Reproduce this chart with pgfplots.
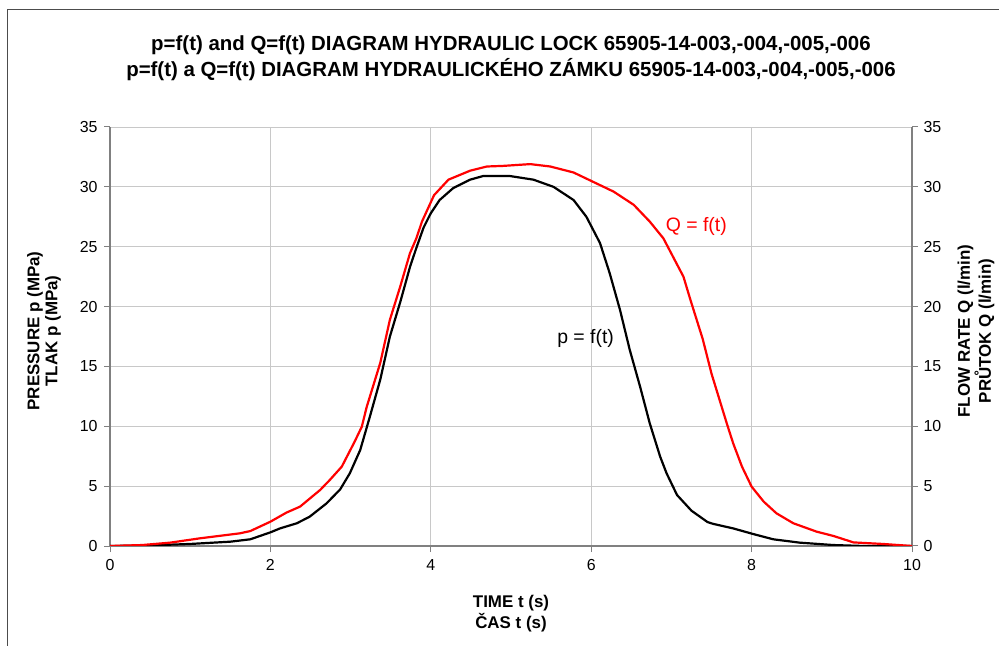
\documentclass[border=0pt]{standalone}
\usepackage{pgfplots}
\pgfplotsset{compat=1.18}
\usepackage{fontspec}
\setmainfont{Liberation Sans}
\definecolor{axgray}{HTML}{808080}
\definecolor{grd}{HTML}{C8C8C8}
\definecolor{qred}{HTML}{FF0000}
\begin{document}
\begin{tikzpicture}
\useasboundingbox (0,0) rectangle (999bp,646bp);
\fill[white] (0,0) rectangle (999bp,646bp);
\draw[line width=1bp, black!70] (7.5bp,0) -- (7.5bp,636bp) -- (999bp,636bp);
\pgfplotsset{every axis/.append style={
  scale only axis, width=802bp, height=419bp,
  xmin=0, xmax=10, ymin=0, ymax=35,
  tick align=outside, major tick length=6bp,
  /pgf/number format/assume math mode=true,
  tick label style={font=\fontsize{16}{18}\selectfont},
  axis line style={axgray, line width=1.2bp},
  tick style={axgray, line width=1bp},
}}
\begin{axis}[at={(110bp,100bp)}, anchor=south west,
  axis x line*=bottom, axis y line*=left,
  xtick={0,2,...,10}, ytick={0,5,...,35},
  grid=major, grid style={grd, line width=0.8bp},
  xticklabel style={yshift=-4bp},
  yticklabel style={xshift=-3bp},
]
\addplot[black, line width=2.2bp] coordinates {
(0,0) (0.5,0.05) (1.0,0.17) (1.5,0.36) (1.75,0.56) (2.0,1.14) (2.12,1.47) (2.33,1.9)
(2.49,2.45) (2.70,3.56) (2.87,4.73) (2.99,6.07) (3.12,8.02) (3.24,10.8) (3.37,13.9)
(3.49,17.5) (3.62,20.4) (3.74,23.3) (3.82,24.9) (3.91,26.6) (4.0,27.8) (4.11,28.9)
(4.28,29.9) (4.49,30.6) (4.65,30.9) (4.99,30.9) (5.28,30.6) (5.53,30.0) (5.78,28.9)
(5.94,27.5) (6.11,25.3) (6.23,22.8) (6.36,19.7) (6.48,16.4) (6.61,13.3) (6.73,10.25)
(6.86,7.46) (6.94,6.07) (7.07,4.26) (7.25,2.95) (7.45,2.0) (7.52,1.85) (7.77,1.47)
(8.02,1.0) (8.27,0.56) (8.60,0.28) (9.02,0.08) (9.4,0) (10,0)
};
\end{axis}
\begin{axis}[at={(110bp,100bp)}, anchor=south west,
  axis x line=none, axis y line*=right,
  ytick={0,5,...,35},
  yticklabel style={xshift=2bp},
]
\addplot[qred, line width=2.2bp] coordinates {
(0,0) (0.4,0.08) (0.75,0.28) (1.12,0.64) (1.62,1.06) (1.75,1.25) (2.0,2.03) (2.20,2.79)
(2.37,3.29) (2.62,4.68) (2.74,5.51) (2.89,6.63) (3.05,8.71) (3.14,9.97) (3.20,11.6)
(3.37,15.3) (3.49,18.9) (3.62,21.7) (3.74,24.45) (3.82,25.7) (3.89,27.1) (4.04,29.3)
(4.22,30.6) (4.49,31.35) (4.70,31.7) (4.90,31.75) (5.24,31.9) (5.49,31.7) (5.78,31.2)
(6.03,30.4) (6.28,29.6) (6.53,28.5) (6.73,27.1) (6.90,25.7) (7.15,22.5) (7.24,20.5)
(7.39,17.3) (7.50,14.4) (7.69,10.25) (7.77,8.58) (7.88,6.63) (8.0,4.96) (8.15,3.71)
(8.31,2.73) (8.52,1.9) (8.81,1.2) (9.02,0.84) (9.27,0.3) (9.64,0.17) (10,0)
};
\node[qred, font=\fontsize{19.5}{22}\selectfont] at (axis cs:7.31,26.7) {Q = f(t)};
\node[black, font=\fontsize{19.5}{22}\selectfont] at (axis cs:5.93,17.3) {p = f(t)};
\end{axis}
\node[font=\bfseries\fontsize{20.5}{26}\selectfont, align=center] at (511bp,588bp)
  {p=f(t) and Q=f(t) DIAGRAM HYDRAULIC LOCK 65905-14-003,-004,-005,-006\\
   p=f(t) a Q=f(t) DIAGRAM HYDRAULICKÉHO ZÁMKU 65905-14-003,-004,-005,-006};
\node[font=\bfseries\fontsize{17}{18}\selectfont, align=center, rotate=90] at (44bp,315bp)
  {PRESSURE p (MPa)\\TLAK p (MPa)};
\node[font=\bfseries\fontsize{17}{18}\selectfont, align=center, rotate=90] at (976bp,315bp)
  {FLOW RATE Q (l/min)\\PRŮTOK Q (l/min)};
\node[font=\bfseries\fontsize{17}{21}\selectfont, align=center] at (511bp,32.5bp)
  {TIME t (s)\\ČAS t (s)};
\end{tikzpicture}
\end{document}
